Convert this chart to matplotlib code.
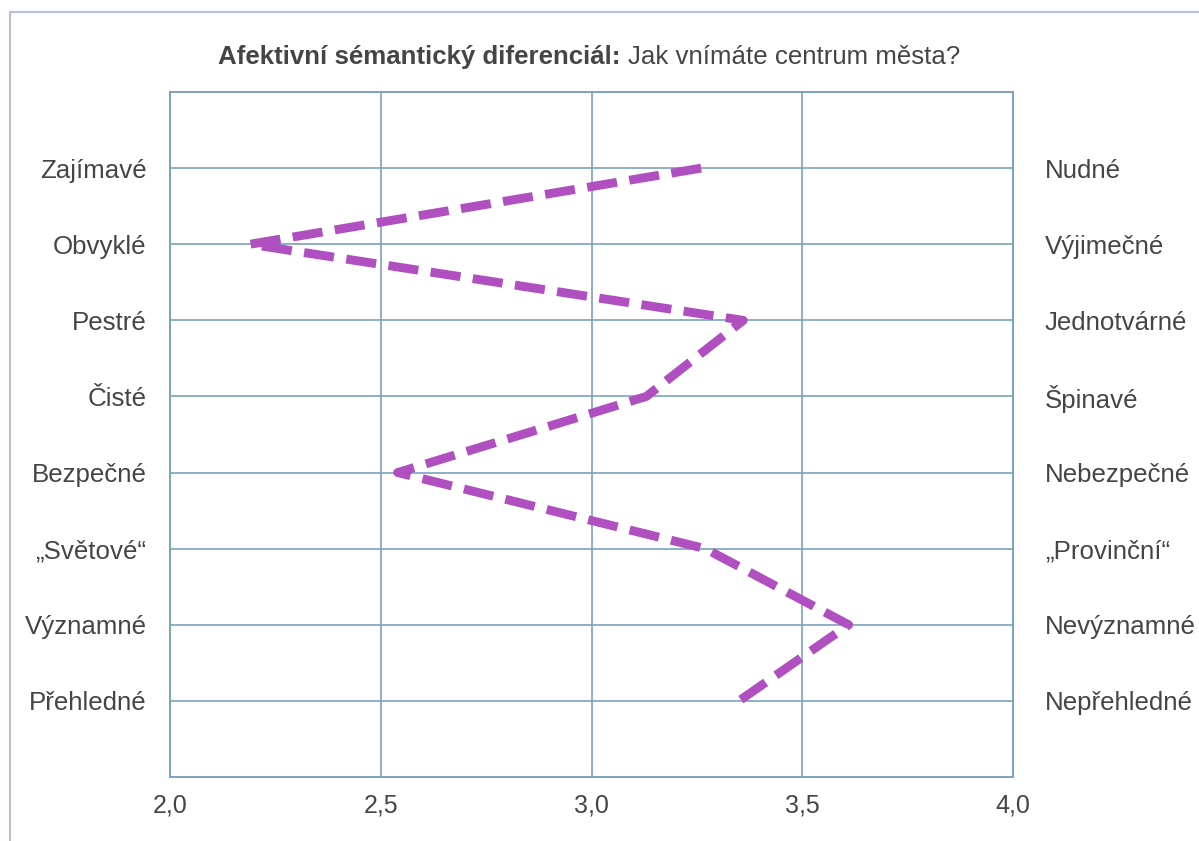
import matplotlib
matplotlib.use('Agg')
import matplotlib.pyplot as plt
from matplotlib.patches import Rectangle

plt.rcParams['font.family'] = ['Liberation Sans', 'DejaVu Sans']

# semantic differential pairs (left / right) and mean scores
left_labels = ['Zajímavé', 'Obvyklé', 'Pestré', 'Čisté', 'Bezpečné',
               '„Světové“', 'Významné', 'Přehledné']
right_labels = ['Nudné', 'Výjimečné', 'Jednotvárné', 'Špinavé', 'Nebezpečné',
                '„Provinční“', 'Nevýznamné', 'Nepřehledné']
scores = [3.26, 2.19, 3.36, 3.13, 2.54, 3.27, 3.61, 3.35]
x_ticks = [2.0, 2.5, 3.0, 3.5, 4.0]
x_ticklabels = ['2,0', '2,5', '3,0', '3,5', '4,0']

grid_col = '#7aa3bd'
text_col = '#454545'
line_col = '#b04fc0'
fs = 18.6

fig = plt.figure(figsize=(11.99, 8.41), dpi=100)
ax = fig.add_axes([0.1418, 0.0761, 0.7031, 0.8145])

rows = list(range(1, len(scores) + 1))
ax.plot(scores, rows, color=line_col, lw=6.4, dashes=(3.4, 1.4),
        solid_capstyle='butt', dash_capstyle='butt', zorder=3)

ax.set_xlim(2.0, 4.0)
ax.set_ylim(9, 0)
ax.set_xticks(x_ticks)
ax.set_xticklabels(x_ticklabels)
ax.set_yticks(rows)
ax.set_yticklabels(left_labels)
ax.tick_params(axis='both', length=0, colors=text_col, labelsize=fs)
ax.tick_params(axis='x', labelsize=18, pad=12)
ax.tick_params(axis='y', pad=17)

ax2 = ax.twinx()
ax2.set_ylim(9, 0)
ax2.set_yticks(rows)
ax2.set_yticklabels(right_labels)
ax2.tick_params(axis='y', length=0, colors=text_col, labelsize=fs, pad=23)

ax.grid(True, color=grid_col, lw=1.2)
for a in (ax, ax2):
    for s in a.spines.values():
        s.set_color(grid_col)
        s.set_linewidth(1.2)

# outer frame
fig.patches.append(Rectangle((10 / 1199, -0.05), 1.1, 1 - 12 / 841 + 0.05,
                             transform=fig.transFigure, fill=False,
                             edgecolor='#b9bde0', lw=1.5))

# title: bold part followed by regular part
t1 = fig.text(218 / 1199, 1 - 57 / 841, 'Afektivní sémantický diferenciál:',
              fontsize=fs, fontweight='bold', color=text_col, va='center')
fig.canvas.draw()
bb = t1.get_window_extent()
fig.text((bb.x1 + 7) / 1199, 1 - 57 / 841, 'Jak vnímáte centrum města?',
         fontsize=fs, color=text_col, va='center')

fig.savefig('out.png', dpi=100)
